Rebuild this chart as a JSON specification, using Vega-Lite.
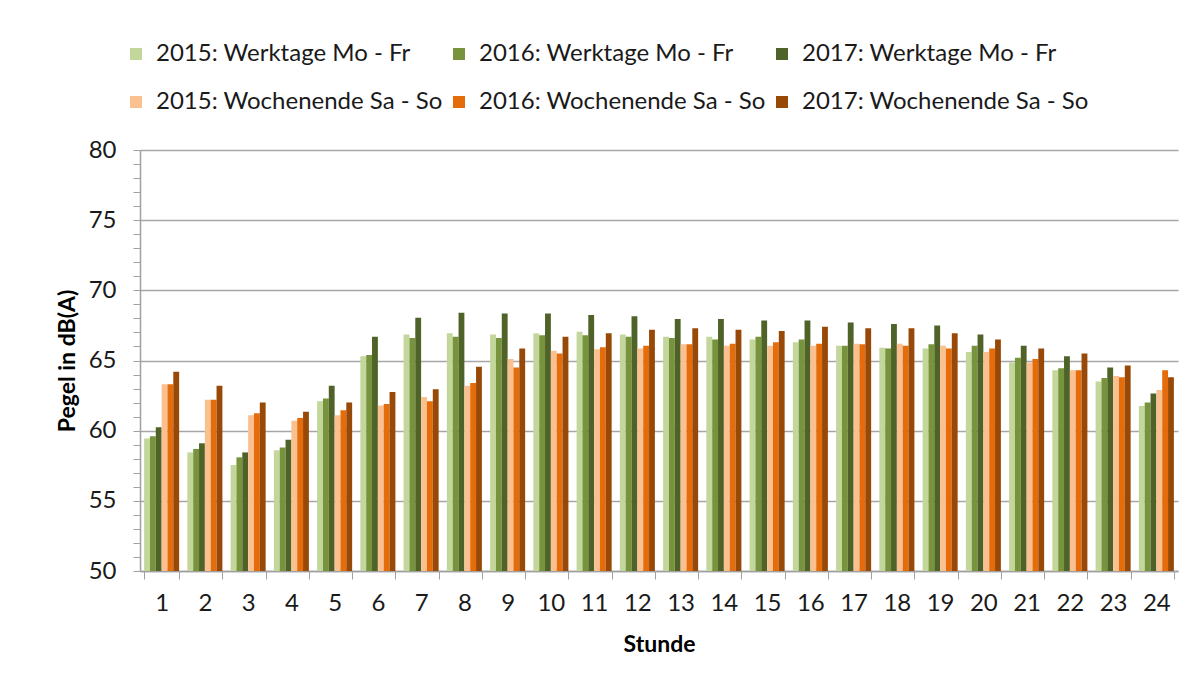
{
 "$schema": "https://vega.github.io/schema/vega-lite/v6.json",
 "width": 1038,
 "height": 421,
 "autosize": {"type": "none"},
 "padding": {"left": 140, "top": 150, "right": 12, "bottom": 115},
 "background": "white",
 "config": {"font": "Lato", "view": {"stroke": null}},
 "datasets": {
  "wide": [
   {"h":1,"a":59.45,"b":59.6,"c":60.25,"d":63.3,"e":63.3,"f":64.2},
   {"h":2,"a":58.45,"b":58.7,"c":59.1,"d":62.2,"e":62.2,"f":63.2},
   {"h":3,"a":57.55,"b":58.1,"c":58.45,"d":61.1,"e":61.25,"f":62.0},
   {"h":4,"a":58.6,"b":58.8,"c":59.35,"d":60.7,"e":60.9,"f":61.35},
   {"h":5,"a":62.1,"b":62.3,"c":63.2,"d":61.1,"e":61.45,"f":62.0},
   {"h":6,"a":65.3,"b":65.4,"c":66.7,"d":61.8,"e":61.9,"f":62.75},
   {"h":7,"a":66.85,"b":66.6,"c":68.05,"d":62.4,"e":62.1,"f":62.95},
   {"h":8,"a":66.95,"b":66.7,"c":68.4,"d":63.2,"e":63.4,"f":64.55},
   {"h":9,"a":66.85,"b":66.6,"c":68.35,"d":65.1,"e":64.5,"f":65.85},
   {"h":10,"a":66.95,"b":66.8,"c":68.35,"d":65.7,"e":65.5,"f":66.7},
   {"h":11,"a":67.05,"b":66.8,"c":68.25,"d":65.8,"e":65.95,"f":66.95},
   {"h":12,"a":66.85,"b":66.7,"c":68.15,"d":65.85,"e":66.05,"f":67.2},
   {"h":13,"a":66.7,"b":66.6,"c":67.95,"d":66.15,"e":66.15,"f":67.3},
   {"h":14,"a":66.7,"b":66.5,"c":67.95,"d":66.05,"e":66.2,"f":67.2},
   {"h":15,"a":66.5,"b":66.7,"c":67.85,"d":66.05,"e":66.3,"f":67.1},
   {"h":16,"a":66.3,"b":66.5,"c":67.85,"d":66.05,"e":66.2,"f":67.4},
   {"h":17,"a":66.05,"b":66.05,"c":67.7,"d":66.2,"e":66.15,"f":67.3},
   {"h":18,"a":65.9,"b":65.85,"c":67.6,"d":66.2,"e":66.05,"f":67.3},
   {"h":19,"a":65.85,"b":66.15,"c":67.5,"d":66.05,"e":65.85,"f":66.95},
   {"h":20,"a":65.6,"b":66.05,"c":66.85,"d":65.6,"e":65.85,"f":66.5},
   {"h":21,"a":64.85,"b":65.2,"c":66.05,"d":64.85,"e":65.1,"f":65.85},
   {"h":22,"a":64.3,"b":64.45,"c":65.3,"d":64.3,"e":64.3,"f":65.5},
   {"h":23,"a":63.5,"b":63.75,"c":64.5,"d":63.9,"e":63.8,"f":64.65},
   {"h":24,"a":61.75,"b":62.0,"c":62.65,"d":62.9,"e":64.3,"f":63.8}
  ]
 },
 "data": {"name": "wide"},
 "transform": [
  {"fold": ["a","b","c","d","e","f"], "as": ["k","v"]},
  {"lookup": "k", "from": {"data": {"values": [
    {"k":"a","s":"2015: Werktage Mo - Fr"},
    {"k":"b","s":"2016: Werktage Mo - Fr"},
    {"k":"c","s":"2017: Werktage Mo - Fr"},
    {"k":"d","s":"2015: Wochenende Sa - So"},
    {"k":"e","s":"2016: Wochenende Sa - So"},
    {"k":"f","s":"2017: Wochenende Sa - So"}
  ]}, "key": "k", "fields": ["s"]}}
 ],
 "mark": {"type": "bar"},
 "encoding": {
  "x": {
   "field": "h", "type": "ordinal", "sort": null,
   "scale": {"paddingInner": 0.19, "paddingOuter": 0.095},
   "axis": {
    "title": "Stunde", "labelAngle": 0, "tickBand": "extent", "tickSize": 8,
    "tickColor": "#a0a0a0", "domainColor": "#a0a0a0", "domainWidth": 1.5,
    "labelFontSize": 24, "labelPadding": 12, "labelColor": "#1a1a1a",
    "titleFontSize": 23, "titleFontWeight": "bold", "titleColor": "#000000", "titlePadding": 18,
    "grid": false
   }
  },
  "xOffset": {
   "field": "s", "type": "nominal",
   "scale": {"domain": ["2015: Werktage Mo - Fr","2016: Werktage Mo - Fr","2017: Werktage Mo - Fr","2015: Wochenende Sa - So","2016: Wochenende Sa - So","2017: Wochenende Sa - So"], "paddingInner": 0, "paddingOuter": 0}
  },
  "y": {
   "field": "v", "type": "quantitative",
   "scale": {"domain": [50, 80], "nice": false, "zero": false},
   "axis": {
    "title": "Pegel in dB(A)",
    "values": [50,51,52,53,54,55,56,57,58,59,60,61,62,63,64,65,66,67,68,69,70,71,72,73,74,75,76,77,78,79,80],
    "labelExpr": "datum.value % 5 === 0 ? datum.label : ''",
    "grid": true,
    "gridColor": {"condition": {"test": "datum.value % 5 === 0", "value": "#a6a6a6"}, "value": "transparent"},
    "gridWidth": 1.5,
    "tickSize": 7, "tickColor": "#a0a0a0", "domainColor": "#a0a0a0", "domainWidth": 1.5,
    "labelFontSize": 24, "labelPadding": 17, "labelColor": "#1a1a1a",
    "titleFontSize": 23, "titleFontWeight": "bold", "titleColor": "#000000", "titlePadding": 9
   }
  },
  "y2": {"datum": 50},
  "color": {
   "field": "s", "type": "nominal",
   "scale": {
    "domain": ["2015: Werktage Mo - Fr","2016: Werktage Mo - Fr","2017: Werktage Mo - Fr","2015: Wochenende Sa - So","2016: Wochenende Sa - So","2017: Wochenende Sa - So"],
    "range": ["#c3d69b","#77933c","#4f6228","#fac090","#e46c0a","#984807"]
   },
   "legend": {
    "title": null, "orient": "none", "direction": "horizontal", "legendX": -16, "legendY": -108,
    "columns": 3, "symbolType": "square", "symbolSize": 144, "symbolStrokeWidth": 0,
    "labelFontSize": 24, "labelColor": "#1a1a1a", "labelOffset": 8,
    "rowPadding": 24, "columnPadding": 4, "labelLimit": 400
   }
  }
 }
}
